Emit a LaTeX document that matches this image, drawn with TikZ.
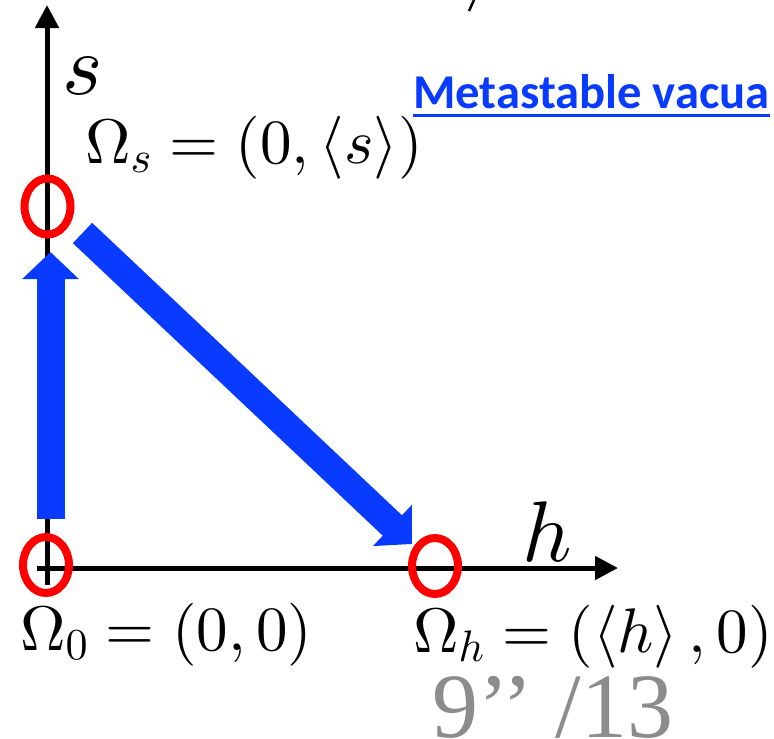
\documentclass[tikz,border=0pt]{standalone}
\DeclareFontFamily{OT1}{cmr}{\hyphenchar\font45 }
\DeclareFontShape{OT1}{cmr}{m}{n}{<->cmr10}{}
\DeclareFontFamily{OML}{cmm}{\skewchar\font127 }
\DeclareFontShape{OML}{cmm}{m}{it}{<->cmmi10}{}
\DeclareFontFamily{OMS}{cmsy}{\skewchar\font48 }
\DeclareFontShape{OMS}{cmsy}{m}{n}{<->cmsy10}{}
\DeclareFontFamily{OMX}{cmex}{}
\DeclareFontShape{OMX}{cmex}{m}{n}{<->cmex10}{}
\usepackage{fontspec}
\usepackage{graphicx}
\usetikzlibrary{arrows.meta,shapes.geometric}
\newfontfamily\calibrifont{Carlito}
\newfontfamily\timesfont{Liberation Serif}
\definecolor{vblue}{RGB}{8,58,255}
\definecolor{ringred}{RGB}{255,0,0}
\definecolor{pagegray}{RGB}{140,140,140}
\tikzset{
  axis/.style={line width=5pt,-{Triangle[length=23pt,width=23pt]}},
  ring/.style={ellipse,draw=ringred,line width=8pt,minimum width=46pt,minimum height=56pt,inner sep=0pt},
  flow/.style={draw=vblue,line width=28pt,-{Triangle[length=27pt,width=55pt]}},
  axlabel/.style={inner sep=0pt,font=\fontsize{86}{90}\selectfont},
  eqlabel/.style={inner sep=0pt,anchor=base west,font=\fontsize{63}{67}\selectfont},
}
\begin{document}
\begin{tikzpicture}[x=1pt,y=-1pt]
\useasboundingbox (0,0) rectangle (774,739);
% axes
\coordinate (ybot) at (47,585);
\coordinate (ytop) at (47,5);
\coordinate (xleft) at (37,568);
\coordinate (xright) at (618,568);
\draw[axis] (ybot) -- (ytop);
\draw[axis] (xleft) -- (xright);
\node[axlabel] (slab) at (83,76) {$s$};
\node[axlabel] (hlab) at (547,532) {$h$};
% flows
\coordinate (v1) at (50.5,519);
\coordinate (v2) at (50.5,252);
\coordinate (d1) at (82.5,233);
\coordinate (d2) at (412,544);
\draw[flow] (v1) -- (v2);
\draw[flow] (d1) -- (d2);
% vacua rings
\node[ring] (r0) at (46,565) {};
\node[ring] (rs) at (47.5,206.5) {};
\node[ring] (rh) at (435,566) {};
% labels
\node[eqlabel] (ls) at (85,163) {$\Omega_s=(0,\langle s\rangle)$};
\node[eqlabel] (l0) at (20,650) {$\Omega_0=(0,0)$};
\node[eqlabel] (lh) at (413,652) {$\Omega_h=(\langle h\rangle\,,0)$};
\node[inner sep=0pt,anchor=base west,text=vblue,font=\calibrifont\bfseries\fontsize{48.6}{52}\selectfont] (meta) at (413,108) {Metastable vacua};
\draw[vblue,line width=3pt] ([yshift=-7pt]meta.base west) -- ([yshift=-7pt]meta.base east);
\node[inner sep=0pt,anchor=base west,text=pagegray,font=\timesfont\fontsize{92}{96}\selectfont] (page) at (432,737) {9’’ /13};
% cut-off stroke at top edge
\coordinate (t1) at (469,11);
\coordinate (t2) at (474,0);
\draw[line width=2.5pt] (t1) -- (t2);
\end{tikzpicture}
\end{document}
